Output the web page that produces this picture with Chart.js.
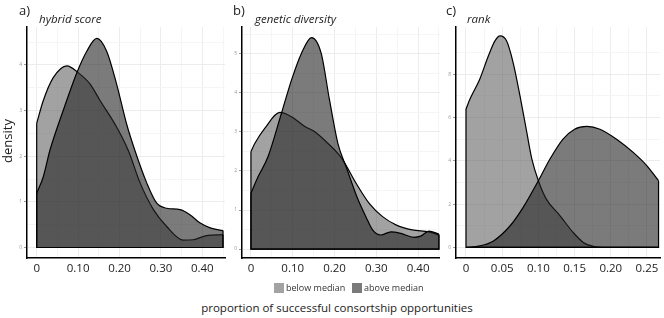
<!DOCTYPE html>
<html>
<head>
<meta charset="utf-8">
<script src="https://cdn.jsdelivr.net/npm/chart.js@4.4.1/dist/chart.umd.min.js"></script>
<style>
    body { margin: 0; background: #fff; font-family: "Open Sans", sans-serif; }
    #fig { position: relative; width: 664px; height: 318px; overflow: hidden; }
    canvas { position: absolute; top: 0; }
    .txt { position: absolute; white-space: nowrap; color: #222; }
    .tag { font-size: 13px; top: 1px; }
    .ttl { font-size: 11.5px; font-style: italic; top: 11px; }
    .sw { position: absolute; width: 10px; height: 10px; top: 283px; }
    .lg { font-size: 9px; top: 281px; color: #333; }
</style>
</head>
<body>
<div id="fig">
    <canvas id="panelA" width="228" height="280" style="left:0px"></canvas>
    <canvas id="panelB" width="228" height="280" style="left:215px"></canvas>
    <canvas id="panelC" width="235" height="280" style="left:429px"></canvas>

    <div class="txt tag" style="left:19px">a)</div>
    <div class="txt tag" style="left:233px">b)</div>
    <div class="txt tag" style="left:446px">c)</div>
    <div class="txt ttl" style="left:39px">hybrid score</div>
    <div class="txt ttl" style="left:255px">genetic diversity</div>
    <div class="txt ttl" style="left:467px">rank</div>

    <div class="txt" style="left:-18px; top:132px; font-size:13px; transform: rotate(-90deg); width:50px; text-align:center;">density</div>

    <div class="sw" style="left:274px; background:#a3a3a3"></div>
    <div class="txt lg" style="left:286px">below median</div>
    <div class="sw" style="left:352px; background:#7a7a7a"></div>
    <div class="txt lg" style="left:364px">above median</div>

    <div class="txt" style="left:0; width:674px; text-align:center; top:300px; font-size:11.5px;">proportion of successful consortship opportunities</div>
</div>

<script>
// panel a) hybrid score
var aBelowX = [0, 0.016, 0.04, 0.073, 0.10, 0.129, 0.153, 0.193, 0.221, 0.25, 0.282, 0.314, 0.354, 0.378, 0.41, 0.45];
var aBelowY = [2.72, 3.22, 3.72, 3.98, 3.83, 3.58, 3.22, 2.64, 2.13, 1.41, 0.83, 0.46, 0.16, 0.17, 0.26, 0.28];
var aAboveX = [0, 0.016, 0.032, 0.064, 0.097, 0.121, 0.145, 0.169, 0.193, 0.217, 0.237, 0.266, 0.29, 0.314, 0.346, 0.37, 0.394, 0.419, 0.45];
var aAboveY = [1.19, 1.55, 2.13, 3.0, 3.83, 4.3, 4.58, 4.3, 3.58, 2.71, 2.13, 1.41, 0.97, 0.86, 0.83, 0.72, 0.54, 0.43, 0.37];

// panel b) genetic diversity
var bBelowX = [0, 0.0095, 0.033, 0.069, 0.097, 0.129, 0.152, 0.184, 0.208, 0.22, 0.252, 0.283, 0.315, 0.347, 0.386, 0.426, 0.45];
var bBelowY = [2.5, 2.71, 3.09, 3.5, 3.39, 3.14, 3.01, 2.71, 2.45, 2.28, 1.68, 1.17, 0.83, 0.62, 0.49, 0.44, 0.36];
var bAboveX = [0, 0.017, 0.041, 0.073, 0.097, 0.121, 0.145, 0.168, 0.188, 0.208, 0.228, 0.255, 0.275, 0.291, 0.311, 0.335, 0.359, 0.39, 0.406, 0.426, 0.45];
var bAboveY = [1.43, 1.85, 2.37, 3.48, 4.33, 5.02, 5.42, 5.02, 3.82, 2.71, 2.1, 1.3, 0.83, 0.49, 0.36, 0.44, 0.40, 0.30, 0.33, 0.46, 0.38];

// panel c) rank
var cBelowX = [0, 0.0055, 0.019, 0.031, 0.040, 0.047, 0.056, 0.065, 0.0746, 0.084, 0.091, 0.10, 0.111, 0.13, 0.148, 0.162, 0.176, 0.194, 0.266];
var cBelowY = [6.39, 6.85, 7.77, 8.85, 9.54, 9.77, 9.54, 8.55, 7.0, 5.31, 4.08, 3.08, 2.23, 1.46, 0.69, 0.23, 0.05, 0, 0];
var cAboveX = [0, 0.019, 0.038, 0.061, 0.079, 0.10, 0.116, 0.134, 0.15, 0.167, 0.185, 0.208, 0.231, 0.25, 0.266];
var cAboveY = [0, 0.07, 0.3, 1.0, 1.85, 3.08, 4.08, 5.0, 5.46, 5.59, 5.46, 5.0, 4.39, 3.77, 3.08];

var xTicksAB = [0, 0.1, 0.2, 0.3, 0.4];
var xLabelsAB = ['0', '0.10', '0.20', '0.30', '0.40'];
var xTicksC = [0, 0.05, 0.1, 0.15, 0.2, 0.25];
var xLabelsC = ['0', '0.05', '0.10', '0.15', '0.20', '0.25'];
var yTicksA = [0, 1, 2, 3, 4];
var yTicksB = [0, 1, 2, 3, 4, 5];
var yTicksC = [0, 2, 4, 6, 8];

var belowFill = 'rgba(100,100,100,0.6)';
var aboveFill = 'rgba(35,35,35,0.6)';

function toPoints(xs, ys) {
    return xs.map((x, i) => ({ x: x, y: ys[i] }));
}

// vertical edges and baseline of the density polygon
function framePoints(xs, ys) {
    var n = xs.length - 1;
    return [{ x: xs[0], y: ys[0] }, { x: xs[0], y: 0 }, { x: xs[n], y: 0 }, { x: xs[n], y: ys[n] }];
}

function buildTicks(majors, min, max) {
    var all = majors.slice();
    var step = majors[1] - majors[0];
    for (var i = 0; i < majors.length; i++) {
        var m = majors[i] + step / 2;
        if (m <= max) all.push(m);
    }
    return all.filter(v => v >= min && v <= max).sort((a, b) => a - b);
}

function makeScale(majors, labels, min, max, isX) {
    var vals = buildTicks(majors, min, max);
    var isMajor = v => majors.indexOf(v) >= 0;
    return {
        type: 'linear',
        min: min,
        max: max,
        afterBuildTicks: function (scale) {
            scale.ticks = vals.map(v => ({ value: v }));
        },
        afterFit: function (scale) {
            if (isX) scale.height = 22; else scale.width = 27;
        },
        border: { display: true, color: '#000', width: 1.5 },
        grid: {
            color: ctx => (ctx.tick && isMajor(ctx.tick.value)) ? '#ececec' : '#f5f5f5',
            lineWidth: 1,
            drawTicks: !isX,
            tickLength: 3,
            tickColor: ctx => (ctx.tick && isMajor(ctx.tick.value)) ? '#9a9a9a' : 'rgba(0,0,0,0)'
        },
        ticks: {
            autoSkip: false,
            maxRotation: 0,
            padding: isX ? 4 : 2,
            color: isX ? '#222' : '#9a9a9a',
            font: { family: 'Open Sans', size: isX ? 11.5 : 5 },
            callback: function (value) {
                var i = majors.indexOf(value);
                return i >= 0 ? labels[i] : '';
            }
        }
    };
}

function createDensityPanel(elementId, belowX, belowY, aboveX, aboveY, xTicks, xLabels, xMin, xMax, yTicks, yMin, yMax, padRight) {
    var ctx = document.getElementById(elementId);
    return new Chart(ctx, {
        type: 'line',
        data: {
            datasets: [{
                label: 'frame below',
                data: framePoints(belowX, belowY),
                borderColor: '#000',
                borderWidth: 1.2,
                fill: false,
                tension: 0,
                order: 0
            }, {
                label: 'frame above',
                data: framePoints(aboveX, aboveY),
                borderColor: '#000',
                borderWidth: 1.2,
                fill: false,
                tension: 0,
                order: 0
            }, {
                label: 'above median',
                data: toPoints(aboveX, aboveY),
                borderColor: '#000',
                borderWidth: 1.2,
                backgroundColor: aboveFill,
                fill: 'origin',
                cubicInterpolationMode: 'monotone',
                order: 1
            }, {
                label: 'below median',
                data: toPoints(belowX, belowY),
                borderColor: '#000',
                borderWidth: 1.2,
                backgroundColor: belowFill,
                fill: 'origin',
                cubicInterpolationMode: 'monotone',
                order: 2
            }]
        },
        options: {
            responsive: false,
            animation: false,
            parsing: false,
            elements: { point: { radius: 0 } },
            layout: { padding: { top: 27, right: padRight, bottom: 0, left: 0 } },
            plugins: {
                legend: { display: false },
                tooltip: { enabled: false },
                title: { display: false }
            },
            scales: {
                x: makeScale(xTicks, xLabels, xMin, xMax, true),
                y: makeScale(yTicks, yTicks.map(String), yMin, yMax, false)
            }
        }
    });
}

(function () {
    createDensityPanel('panelA', aBelowX, aBelowY, aAboveX, aAboveY, xTicksAB, xLabelsAB, -0.0234, 0.4548, yTicksA, -0.23, 4.83, 3);
    createDensityPanel('panelB', bBelowX, bBelowY, bAboveX, bAboveY, xTicksAB, xLabelsAB, -0.0214, 0.452, yTicksB, -0.23, 5.69, 2);
    createDensityPanel('panelC', cBelowX, cBelowY, cAboveX, cAboveY, xTicksC, xLabelsC, -0.0138, 0.268, yTicksC, -0.49, 10.18, 4);
})();
</script>
</body>
</html>
